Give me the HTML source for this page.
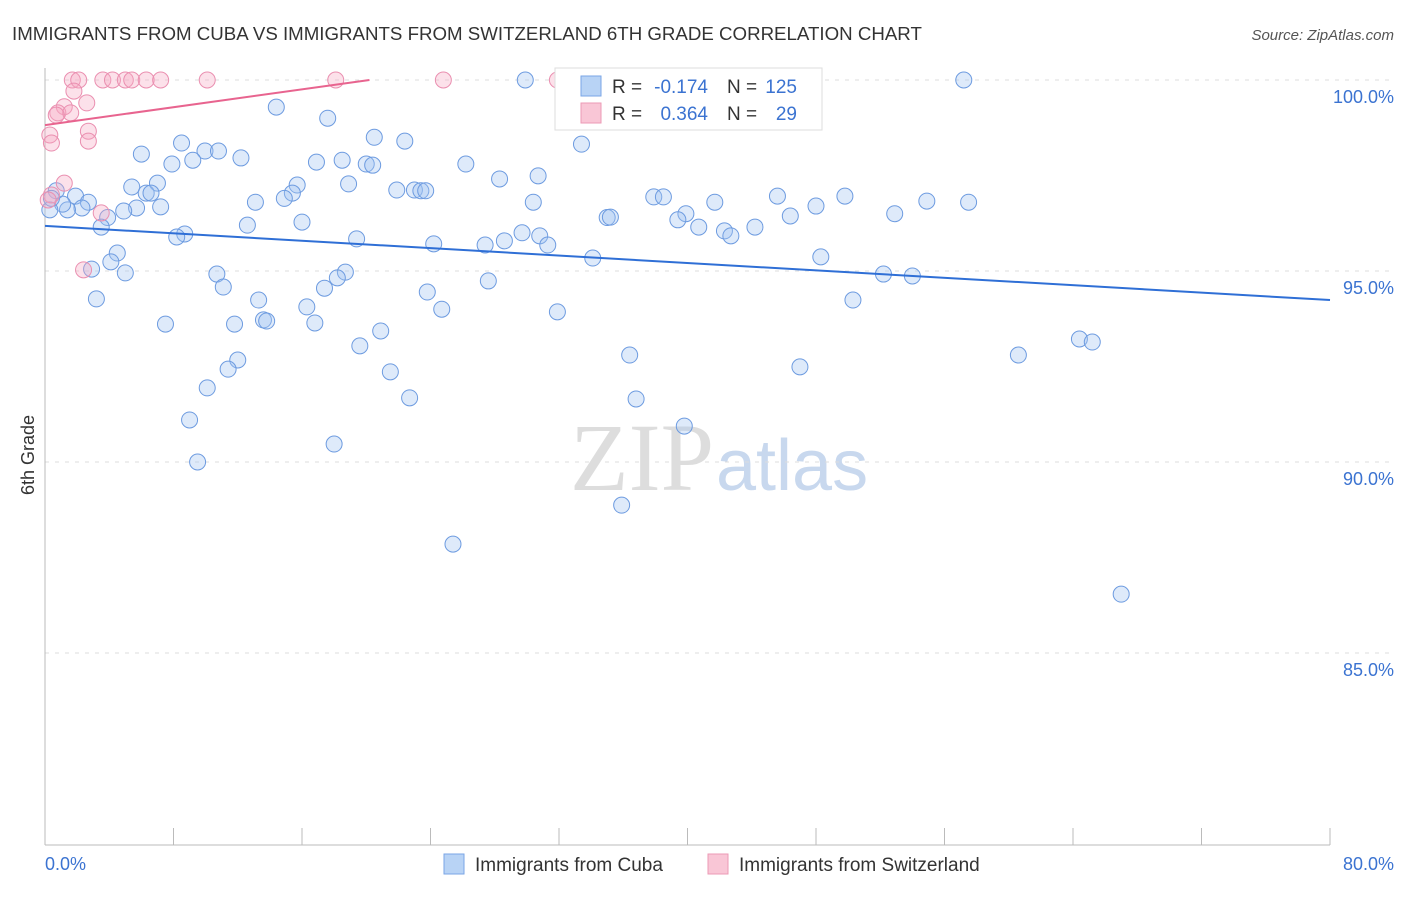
<!DOCTYPE html>
<html><head><meta charset="utf-8"><style>
body{margin:0;background:#fff;font-family:"Liberation Sans",sans-serif}
</style></head><body>
<svg id="chart" width="1406" height="892" xmlns="http://www.w3.org/2000/svg">
<text x="12" y="40" font-size="18.7" fill="#333">IMMIGRANTS FROM CUBA VS IMMIGRANTS FROM SWITZERLAND 6TH GRADE CORRELATION CHART</text>
<text x="1394" y="40" font-size="15" fill="#555" font-style="italic" text-anchor="end">Source: ZipAtlas.com</text>
<text x="714" y="490" font-size="96" fill="#ddd" font-family="Liberation Serif,serif" text-anchor="end">ZIP</text>
<text x="716" y="490" font-size="72" fill="#c8d8ee">atlas</text>
<g id="grid"></g><g id="axes"></g><g id="pts"></g><g id="lines"></g>
<text transform="translate(34,455) rotate(-90)" font-size="18" fill="#333" text-anchor="middle">6th Grade</text>
<text x="45" y="870" font-size="18" fill="#3b73d1">0.0%</text>
<text x="1394" y="870" font-size="18" fill="#3b73d1" text-anchor="end">80.0%</text>
<g>
<rect x="555" y="68" width="267" height="62" fill="#fff" stroke="#ddd"/>
<rect x="581" y="76" width="20" height="20" fill="#b8d3f5" stroke="#7aa6e6"/>
<rect x="581" y="103" width="20" height="20" fill="#f9c6d6" stroke="#ec9ab5"/>
<text x="612" y="93" font-size="19" fill="#333">R =</text>
<text x="708" y="93" font-size="19" fill="#3b73d1" text-anchor="end">-0.174</text>
<text x="727" y="93" font-size="19" fill="#333">N =</text>
<text x="797" y="93" font-size="19" fill="#3b73d1" text-anchor="end">125</text>
<text x="612" y="120" font-size="19" fill="#333">R =</text>
<text x="708" y="120" font-size="19" fill="#3b73d1" text-anchor="end">0.364</text>
<text x="727" y="120" font-size="19" fill="#333">N =</text>
<text x="797" y="120" font-size="19" fill="#3b73d1" text-anchor="end">29</text>
</g>
<g>
<rect x="444" y="854" width="20" height="20" fill="#b8d3f5" stroke="#7aa6e6"/>
<text x="475" y="871" font-size="19" fill="#333">Immigrants from Cuba</text>
<rect x="708" y="854" width="20" height="20" fill="#f9c6d6" stroke="#ec9ab5"/>
<text x="739" y="871" font-size="19" fill="#333">Immigrants from Switzerland</text>
</g>
</svg>
<script>
const yTicks=[100,95,90,85];
const yTickLabels=["100.0%","95.0%","90.0%","85.0%"];
const xTicks=[0,8,16,24,32,40,48,56,64,72,80];
const cubaX=[29.9,57.2,14.4,17.6,20.5,22.4,33.4,8.5,6.0,9.96,10.8,12.2,9.2,7.9,16.9,18.5,20.0,20.4,26.2,30.7,28.3,18.9,15.7,7.0,5.4,6.3,6.6,15.4,14.9,21.9,23.0,23.4,23.7,37.9,38.5,45.6,49.8,30.4,41.7,48.0,54.9,57.5,13.1,7.2,5.7,4.9,3.9,1.9,2.7,2.3,1.4,1.1,0.7,0.3,0.4,3.5,16.0,12.6,35.0,35.2,39.9,39.4,46.4,52.9,40.7,42.3,42.7,44.2,29.7,30.8,31.3,28.6,27.4,24.2,19.4,8.7,8.2,4.5,4.1,34.1,48.3,2.9,5.0,10.7,18.7,18.2,27.6,52.2,54.0,11.1,17.4,23.8,3.2,13.3,16.3,24.7,31.9,50.3,7.5,11.8,13.6,13.8,16.8,20.9,19.6,12.0,11.4,36.4,60.6,64.4,65.2,47.0,21.5,10.1,22.7,36.8,9.0,39.8,18.0,9.5,35.9,25.4,67.0];
const cubaY=[100,100,99.29,99.0,98.5,98.4,98.32,98.35,98.06,98.14,98.14,97.96,97.9,97.8,97.85,97.9,97.8,97.77,97.8,97.49,97.41,97.28,97.25,97.3,97.2,97.04,97.04,97.04,96.9,97.12,97.12,97.1,97.1,96.94,96.94,96.96,96.96,96.8,96.8,96.7,96.83,96.8,96.8,96.68,96.65,96.57,96.4,96.96,96.8,96.65,96.6,96.75,97.1,96.6,96.9,96.15,96.28,96.2,96.4,96.41,96.5,96.34,96.44,96.5,96.15,96.05,95.92,96.15,96.0,95.92,95.68,95.79,95.68,95.71,95.84,95.97,95.89,95.47,95.24,95.34,95.37,95.05,94.95,94.92,94.97,94.82,94.74,94.92,94.87,94.58,94.55,94.45,94.27,94.24,94.06,94.0,93.93,94.24,93.61,93.61,93.72,93.69,93.64,93.43,93.04,92.67,92.43,92.8,92.8,93.22,93.14,92.49,92.36,91.94,91.68,91.65,91.1,90.94,90.47,90.0,88.87,87.85,86.54];
const swissX=[1.7,2.1,3.6,4.2,5.0,5.4,6.3,7.2,10.1,18.1,24.8,31.9,1.8,2.6,1.2,0.8,1.6,0.7,2.7,2.7,0.3,0.4,1.2,0.4,3.5,2.4,0.2];
const swissY=[100,100,100,100,100,100,100,100,100,100,100,100,99.71,99.4,99.3,99.14,99.14,99.08,98.66,98.4,98.56,98.35,97.3,96.99,96.52,95.03,96.86];
const cubaTrend=[[0,96.18],[80,94.24]];
const swissTrend=[[0,98.82],[20.2,100]];
const NS="http://www.w3.org/2000/svg";
const sx=v=>45+v*(1285/80), sy=v=>80+(100-v)*38.2;
function mk(t,a,p){const e=document.createElementNS(NS,t);for(const k in a)e.setAttribute(k,a[k]);document.getElementById(p).appendChild(e);return e;}
yTicks.forEach((t,i)=>{
 const g=mk('line',{x1:45,x2:1394,y1:sy(t),y2:sy(t),stroke:'#ddd','stroke-dasharray':'4,6'},'grid');
 
 
 const l=mk('text',{x:1394,y:sy(t)+23,'font-size':18,fill:'#3b73d1','text-anchor':'end'},'axes');
 l.textContent=yTickLabels[i];
 
 
});
const xa=mk('line',{x1:45,x2:1330,y1:845,y2:845,stroke:'#bbb'},'axes');


const ya=mk('line',{x1:45,x2:45,y1:68,y2:845,stroke:'#bbb'},'axes');


xTicks.forEach(t=>{const e=mk('line',{x1:sx(t),x2:sx(t),y1:828,y2:845,stroke:'#bbb'},'axes');
 
 });
cubaX.forEach((x,i)=>{const c=mk('circle',{cx:sx(x),cy:sy(cubaY[i]),r:8,fill:'rgba(160,195,240,0.35)',stroke:'#6d9be0','stroke-width':1},'pts');
 
 });
swissX.forEach((x,i)=>{const c=mk('circle',{cx:sx(x),cy:sy(swissY[i]),r:8,fill:'rgba(245,170,195,0.35)',stroke:'#ea8fb0','stroke-width':1},'pts');
 
 });
const t1=mk('line',{x1:sx(cubaTrend[0][0]),y1:sy(cubaTrend[0][1]),x2:sx(cubaTrend[1][0]),y2:sy(cubaTrend[1][1]),stroke:'#2f6fd6','stroke-width':2},'lines');


const t2=mk('line',{x1:sx(swissTrend[0][0]),y1:sy(swissTrend[0][1]),x2:sx(swissTrend[1][0]),y2:sy(swissTrend[1][1]),stroke:'#e8648f','stroke-width':2},'lines');


</script>
</body></html>
